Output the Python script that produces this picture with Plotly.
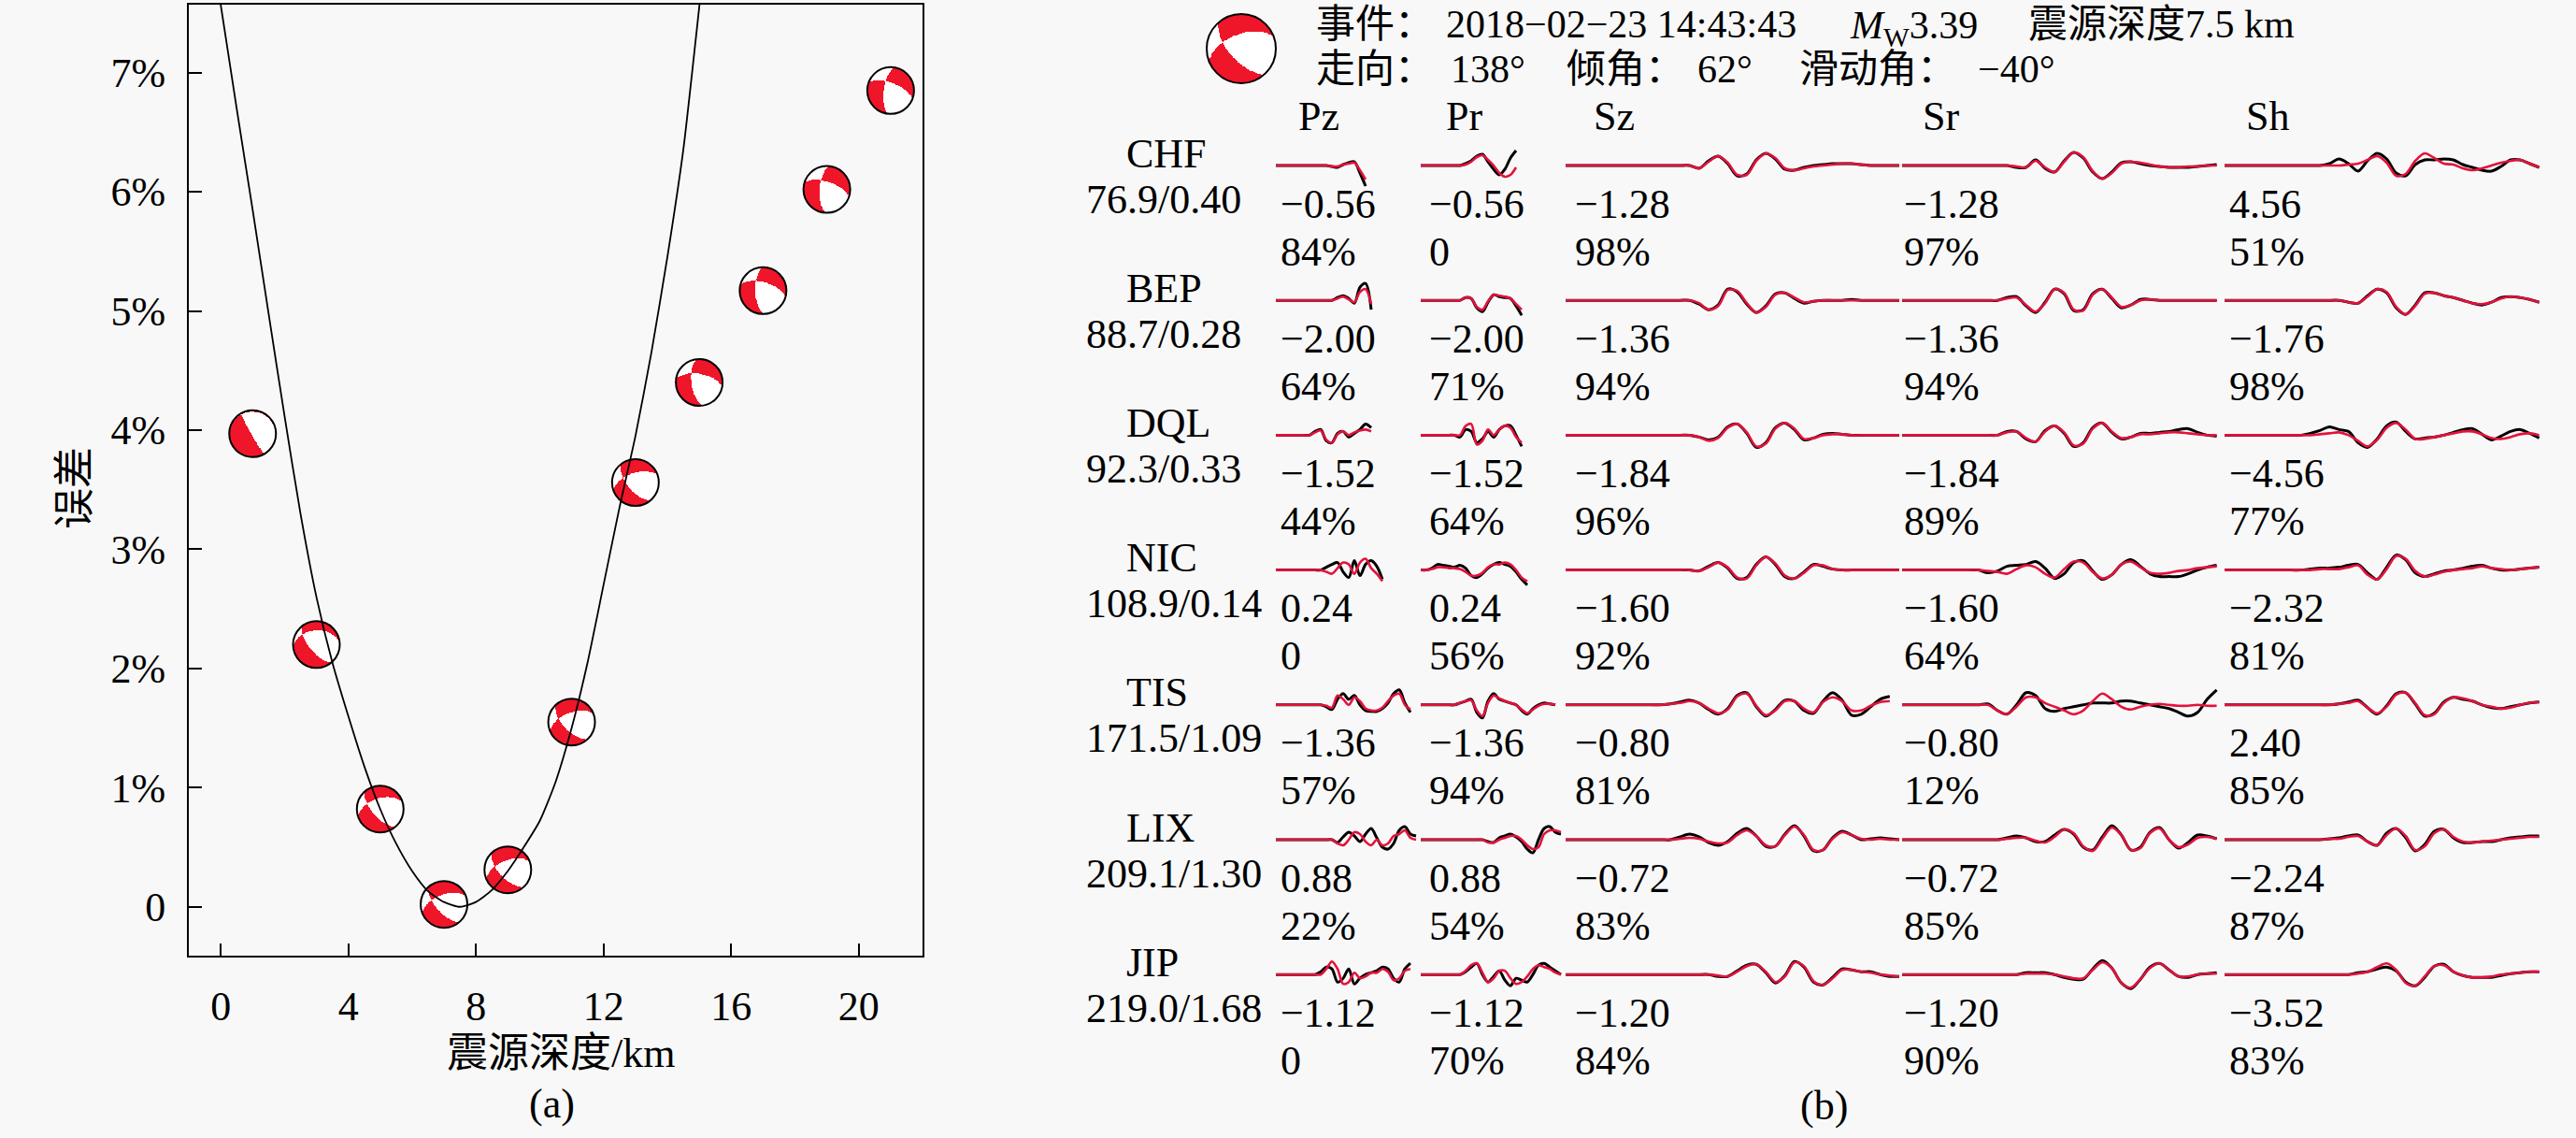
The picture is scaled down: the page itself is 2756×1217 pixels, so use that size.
import numpy as np
import plotly.graph_objects as go

W, H = 2756, 1217
FONT = "Liberation Serif, Noto Sans CJK SC, serif"
BG = "#f8f8f8"
BALL_RED = "rgb(240,22,42)"
WAVE_RED = "rgb(228,18,60)"

# ---------------- (a) misfit against source depth ----------------
depth = [1, 3, 5, 7, 9, 11, 13, 15, 17, 19, 21]
misfit = [3.97, 2.20, 0.82, 0.02, 0.31, 1.55, 3.56, 4.40, 5.17, 6.02, 6.85]
# mechanism drawn at each depth (strike / dip / rake), estimated from the balls
bb_strike = [150, 140, 138, 138, 136, 136, 140, 172, 178, 184, 188]
bb_dip = [85, 65, 62, 62, 60, 60, 62, 62, 62, 64, 65]
bb_rake = [-85, -60, -45, -40, -40, -40, -40, -35, -35, -30, -30]

# fitted misfit curve
curve_x = [-0.15, 0.0, 0.5, 1.0, 1.5, 2.0, 2.5, 3.0, 3.5, 4.0, 4.5, 5.0, 5.5, 6.0, 6.5,
           7.0, 7.5, 8.0, 8.5, 9.0, 9.5, 10.0, 10.5, 11.0, 11.5, 12.0, 12.5, 13.0,
           13.5, 14.0, 14.5, 15.0, 15.1]
curve_y = [7.82, 7.57, 6.7, 5.85, 4.98, 4.12, 3.3, 2.6, 2.05, 1.6, 1.18, 0.82, 0.53, 0.3, 0.13,
           0.04, 0.0, 0.04, 0.14, 0.3, 0.5, 0.72, 1.05, 1.5, 2.05, 2.7, 3.35, 3.95,
           4.65, 5.45, 6.35, 7.55, 7.8]

x_ticks = [0, 4, 8, 12, 16, 20]
y_ticks = [0, 1, 2, 3, 4, 5, 6, 7]
y_ticktext = ["0", "1%", "2%", "3%", "4%", "5%", "6%", "7%"]

# ---------------- (b) waveform fit ----------------
ev_time = "2018−02−23 14:43:43"
ev_mw = 3.39
ev_depth = 7.5
ev_strike, ev_dip, ev_rake = 138, 62, -40

stations = ["CHF", "BEP", "DQL", "NIC", "TIS", "LIX", "JIP"]
dist_info = ["76.9/0.40", "88.7/0.28", "92.3/0.33", "108.9/0.14",
             "171.5/1.09", "209.1/1.30", "219.0/1.68"]
components = ["Pz", "Pr", "Sz", "Sr", "Sh"]

shift_pz = [-0.56, -2.00, -1.52, 0.24, -1.36, 0.88, -1.12]
shift_pr = [-0.56, -2.00, -1.52, 0.24, -1.36, 0.88, -1.12]
shift_sz = [-1.28, -1.36, -1.84, -1.60, -0.80, -0.72, -1.20]
shift_sr = [-1.28, -1.36, -1.84, -1.60, -0.80, -0.72, -1.20]
shift_sh = [4.56, -1.76, -4.56, -2.32, 2.40, -2.24, -3.52]
corr_pz = [84, 64, 44, 0, 57, 22, 0]
corr_pr = [0, 71, 64, 56, 94, 54, 70]
corr_sz = [98, 94, 96, 92, 81, 83, 84]
corr_sr = [97, 94, 89, 64, 12, 85, 90]
corr_sh = [51, 98, 77, 81, 85, 87, 83]

# waveform amplitudes (screen px, up positive), observed = black, synthetic = red
pz_obs = [
    [0, 0, 0, 0, 0, 0, 0, 0, 0, 0, -1, -2, 1, 3, 4, -8, -22],
    [0, 0, 0, 0, 0, 0, 0, 0, 0, 0, 0, 3, 5, 2, -3, 14, 18, -10],
    [0, 0, 0, 0, 0, 0, 0, 4, 6, -6, -8, 2, 4, -2, 2, 6, 12, 8],
    [0, 0, 0, 0, 0, 0, 0, 0, 0, 3, 6, 8, -2, -8, 10, -6, 6, 10, 4, -10],
    [0, 0, 0, 0, 0, 0, 0, 0, 0, -2, -5, 6, 12, 6, 10, 0, -6, -7, -7, -4, 2, 12, 16, 2, -8],
    [0, 0, 0, 0, 0, 0, 0, 0, 0, 0, 0, -3, 3, 8, 4, -2, 6, 12, 2, -8, -10, -4, 10, 14, 6, 4],
    [0, 0, 0, 0, 0, 0, 0, 0, 3, 8, 6, -8, -4, 6, -10, -4, 0, 2, 4, 8, 6, -4, -8, 6, 12],
]
pz_syn = [
    [0, 0, 0, 0, 0, 0, 0, 0, 0, 0, -1, -1, 1, 2, 3, -5, -15],
    [0, 0, 0, 0, 0, 0, 0, 0, 0, 0, 0, 2, 4, 1, -2, 9, 12, -4],
    [0, 0, 0, 0, 0, 0, 0, 3, 5, -5, -8, 1, 4, 0, 3, 5, 6, 4],
    [0, 0, 0, 0, 0, 0, 0, 0, 0, -2, -4, 2, 8, 6, -4, 8, 12, 2, -4, -12],
    [0, 0, 0, 0, 0, 0, 0, 0, 0, -1, -3, 10, 6, 0, 8, 4, -4, -6, -6, -3, 4, 10, 12, 0, -5],
    [0, 0, 0, 0, 0, 0, 0, 0, 0, 0, 0, -4, -6, 0, 8, 6, -2, -6, 0, -6, -4, 4, 6, 10, 2, 0],
    [0, 0, 0, 0, 0, 0, 0, 0, 0, 6, 14, 6, -10, -8, 2, -4, -2, 2, 2, 6, 3, -6, -4, 4, 6],
]
pr_obs = [
    [0, 0, 0, 0, 0, 0, 0, 0, 2, 5, 10, 12, 4, -4, -10, -4, 8, 16],
    [0, 0, 0, 0, 0, 0, 0, 0, 3, 2, -8, -12, -2, 6, 4, 3, 2, -6, -16],
    [0, 0, 0, 0, 0, 0, 0, -2, 6, 4, -8, -4, 4, -2, 6, 10, 10, 0, -12],
    [0, 0, 2, 6, 5, 4, 3, 5, 2, -6, -8, -4, 2, 6, 8, 6, 4, -2, -10, -16],
    [0, 0, 0, 0, 0, 0, 0, 2, 4, 6, -8, -14, 4, 12, 6, 4, 2, 0, -6, -10, -4, 0, 2, 1, 0],
    [0, 0, 0, 0, 0, 0, 0, 0, 0, 0, 0, 0, -2, -3, 2, 4, 6, 3, -2, -10, -14, 0, 12, 14, 8, 6],
    [0, 0, 0, 0, 0, 0, 0, 0, 3, 8, 12, 0, -8, -2, 4, -6, -12, -4, -6, -8, 0, 10, 12, 8, 4, 0],
]
pr_syn = [
    [0, 0, 0, 0, 0, 0, 0, 0, 1, 4, 9, 11, 6, 0, -8, -12, -10, -2],
    [0, 0, 0, 0, 0, 0, 0, 0, 3, 2, -7, -10, -1, 6, 5, 4, 2, -4, -10],
    [0, 0, 0, 0, 0, 0, 0, 0, 10, 12, -10, -6, 6, 0, 6, 10, 8, -2, -8],
    [0, 0, 1, 3, 3, 2, 2, 1, -2, -6, -6, -3, 3, 6, 6, 8, 6, 0, -8, -12],
    [0, 0, 0, 0, 0, 0, 0, 2, 4, 5, -6, -12, 2, 10, 7, 4, 2, 0, -5, -9, -5, -1, 1, 1, 0],
    [0, 0, 0, 0, 0, 0, 0, 0, 0, 0, 0, 0, -3, -3, 0, 2, 4, 4, 0, -6, -10, -8, 6, 10, 10, 8],
    [0, 0, 0, 0, 0, 0, 0, 0, 4, 10, 12, 2, -8, -4, 4, 4, -4, -10, -8, -2, 6, 10, 8, 6, 2, 0],
]
sz_obs = [
    [0, 0, 0, 0, 0, 0, 0, 0, 0, 0, 0, 0, 0, 0, -3, 5, 10, 2, -11, -9, 6, 13, 7, -4, -5, -2, 0, 1, 2, 2, 2, 1, 0, 0, 0, 0],
    [0, 0, 0, 0, 0, 0, 0, 0, 0, 0, 0, 0, 0, 0, -4, -10, -5, 12, 9, -4, -13, -6, 7, 8, 2, -3, -1, 0, 0, 0, 1, 0, 0, 0, 0, 0],
    [0, 0, 0, 0, 0, 0, 0, 0, 0, 0, 0, 0, 0, 0, -2, -5, -2, 9, 12, 2, -13, -8, 8, 13, 6, -5, -3, 1, 2, 1, 0, 0, 0, 0, 0, 0],
    [0, 0, 0, 0, 0, 0, 0, 0, 0, 0, 0, 0, 0, 0, -1, 4, 8, 2, -9, -8, 6, 14, 6, -7, -9, -2, 6, 4, 1, 0, 0, 0, 0, 0, 0, 0],
    [0, 0, 0, 0, 0, 0, 0, 0, 0, 0, 0, 1, 3, 5, 2, -5, -10, -4, 10, 13, -2, -12, -5, 5, 4, -6, -9, 4, 13, 5, -11, -10, -2, 6, 9],
    [0, 0, 0, 0, 0, 0, 0, 0, 0, 0, 0, 0, 3, 6, 3, -3, -6, -2, 7, 12, 4, -7, -7, 6, 15, 4, -12, -11, 2, 9, 5, 0, 1, 2, 1, 0],
    [0, 0, 0, 0, 0, 0, 0, 0, 0, 0, 0, 0, 0, 0, 0, 0, -2, -2, 4, 10, 11, 2, -9, -1, 14, 8, -8, -11, -3, 6, 5, 3, 3, 0, -2, -2],
]
sz_syn = [
    [0, 0, 0, 0, 0, 0, 0, 0, 0, 0, 0, 0, 0, 0, -3, 4, 10, 3, -10, -10, 5, 13, 8, -3, -5, -3, -1, 0, 1, 2, 2, 1, 0, 0, 0, 0],
    [0, 0, 0, 0, 0, 0, 0, 0, 0, 0, 0, 0, 0, 0, -3, -10, -6, 11, 10, -3, -13, -7, 6, 8, 3, -2, -1, 0, 0, 0, 0, 0, 0, 0, 0, 0],
    [0, 0, 0, 0, 0, 0, 0, 0, 0, 0, 0, 0, 0, 0, -2, -6, -3, 8, 12, 3, -12, -9, 7, 13, 7, -4, -3, 0, 1, 1, 0, 0, 0, 0, 0, 0],
    [0, 0, 0, 0, 0, 0, 0, 0, 0, 0, 0, 0, 0, 0, -1, 3, 8, 3, -8, -9, 5, 14, 7, -6, -9, -3, 5, 5, 1, 0, 0, 0, 0, 0, 0, 0],
    [0, 0, 0, 0, 0, 0, 0, 0, 0, 0, 0, 1, 2, 4, 2, -4, -9, -5, 9, 12, -1, -11, -6, 4, 4, -4, -8, 3, 8, 4, -6, -6, -1, 3, 4],
    [0, 0, 0, 0, 0, 0, 0, 0, 0, 0, 0, 0, 1, 2, 1, -2, -4, -3, 5, 10, 4, -6, -7, 5, 14, 5, -11, -11, 1, 8, 5, 1, 0, 1, 0, 0],
    [0, 0, 0, 0, 0, 0, 0, 0, 0, 0, 0, 0, 0, 0, 0, 0, -1, -2, 3, 9, 11, 3, -8, -2, 13, 9, -7, -11, -4, 5, 5, 3, 2, 0, -1, -2],
]
sr_obs = [
    [0, 0, 0, 0, 0, 0, 0, 0, 0, 0, 0, 0, -2, -2, 6, -3, -7, 5, 14, 8, -7, -14, -7, 3, 4, 2, 0, -1, -2, -2, -2, -1, 0, 1],
    [0, 0, 0, 0, 0, 0, 0, 0, 0, 0, 0, 3, 4, -6, -13, -2, 12, 7, -11, -10, 7, 12, 2, -8, -5, 1, 1, 0, 0, 0, 0, 0, 0, 0],
    [0, 0, 0, 0, 0, 0, 0, 0, 0, 0, 0, 4, 4, -4, -7, 5, 10, 2, -12, -8, 8, 13, 3, -4, -2, 2, 2, 3, 4, 6, 7, 3, 0, -1],
    [0, 0, 0, 0, 0, 0, 0, 0, 0, -3, -1, 4, 5, 6, 9, 2, -9, -4, 8, 10, -1, -10, -5, 6, 11, 4, -4, -7, -7, -7, -4, 0, 3, 5],
    [0, 0, 0, 0, 0, 0, 0, 0, 0, 1, -6, -10, 0, 13, 10, -4, -7, -4, -2, 0, 2, 2, 2, 4, 4, 2, 0, -2, -4, -8, -12, -8, 6, 16],
    [0, 0, 0, 0, 0, 0, 0, 0, 0, 0, 0, 2, 4, 2, -2, -2, 5, 11, 6, -8, -11, 3, 15, 5, -11, -8, 8, 13, 0, -9, -3, 5, 4, 1],
    [0, 0, 0, 0, 0, 0, 0, 0, 0, 0, 0, 0, 0, 2, 2, 2, 0, -3, -5, -5, 6, 15, 7, -9, -15, -5, 8, 12, 5, -2, -3, 0, 1, 2],
]
sr_syn = [
    [0, 0, 0, 0, 0, 0, 0, 0, 0, 0, 0, 0, -1, -2, 5, -2, -7, 4, 14, 9, -6, -14, -8, 2, 4, 3, 1, -1, -2, -2, -1, -1, 0, 0],
    [0, 0, 0, 0, 0, 0, 0, 0, 0, 0, 0, 2, 3, -5, -12, -3, 12, 8, -10, -11, 6, 12, 3, -7, -5, 0, 1, 0, 0, 0, 0, 0, 0, 0],
    [0, 0, 0, 0, 0, 0, 0, 0, 0, 0, 0, 3, 4, -3, -7, 4, 10, 3, -11, -9, 7, 13, 4, -3, -2, 1, 1, 2, 3, 3, 2, 1, 0, 0],
    [0, 0, 0, 0, 0, 0, 0, 0, 0, -1, -2, -4, 1, 5, 3, -4, -8, 1, 9, 8, -2, -9, -5, 6, 9, 3, -3, -4, -3, -1, 0, 2, 3, 4],
    [0, 0, 0, 0, 0, 0, 0, 0, 0, 0, -6, -10, -2, 8, 8, 2, -2, -6, -10, -6, 4, 12, 6, -2, -5, -2, 0, 1, 0, -1, -1, 0, -1, -1],
    [0, 0, 0, 0, 0, 0, 0, 0, 0, 0, 0, 1, 2, 2, -1, -3, 3, 11, 7, -7, -12, 1, 13, 5, -11, -9, 7, 12, 0, -8, -5, 2, 3, 1],
    [0, 0, 0, 0, 0, 0, 0, 0, 0, 0, 0, 0, 0, 1, 1, 1, 0, -2, -4, -4, 5, 13, 7, -9, -14, -5, 7, 12, 5, -2, -2, 0, 1, 1],
]
sh_obs = [
    [0, 0, 0, 0, 0, 0, 0, 0, 0, 0, 0, 2, 7, 2, -6, 5, 13, 7, -8, -11, 1, 6, 6, 7, 6, 1, -2, -5, -6, -1, 6, 6, 2, -2],
    [0, 0, 0, 0, 0, 0, 0, 0, 0, 0, 0, 0, 0, -2, -3, 5, 12, 8, -8, -15, -5, 8, 8, 5, 3, 0, -3, -5, -2, 3, 4, 3, 1, -2],
    [0, 0, 0, 0, 0, 0, 0, 0, 0, 2, 5, 9, 6, 4, -8, -13, -4, 10, 14, 4, -4, -3, -2, 0, 3, 6, 7, 1, -5, -1, 4, 6, 2, -3],
    [0, 0, 0, 0, 0, 0, 0, 0, 0, 1, 2, 2, 3, 5, 6, -3, -10, 3, 16, 11, -3, -7, -4, -1, 0, 2, 4, 5, 2, 0, 0, 1, 2, 3],
    [0, 0, 0, 0, 0, 0, 0, 0, 0, 0, 0, 0, 1, 3, 5, -3, -10, -1, 12, 13, 1, -12, -9, 3, 8, 6, 4, 0, -3, -4, -2, 0, 2, 3],
    [0, 0, 0, 0, 0, 0, 0, 0, 0, 0, 0, 1, 2, 4, 5, -2, -6, 7, 12, 2, -12, -5, 9, 11, 2, -3, -3, -2, -2, 0, 2, 3, 4, 4],
    [0, 0, 0, 0, 0, 0, 0, 0, 0, 0, 0, 0, 0, 0, 2, 3, 6, 8, 4, -8, -12, -3, 9, 11, 3, -1, -3, -3, -3, -1, 1, 2, 3, 3],
]
sh_syn = [
    [0, 0, 0, 0, 0, 0, 0, 0, 0, 0, 0, 0, 0, 1, 2, 6, 10, 3, -11, -9, 5, 13, 8, 2, 1, -3, -5, -3, 0, 3, 5, 6, 2, -2],
    [0, 0, 0, 0, 0, 0, 0, 0, 0, 0, 0, 0, 0, -2, -3, 4, 12, 9, -7, -15, -6, 7, 8, 5, 3, 0, -3, -4, -2, 2, 4, 3, 1, -2],
    [0, 0, 0, 0, 0, 0, 0, 0, 0, 0, 1, 2, 3, 0, -6, -12, -5, 8, 13, 6, -4, -4, -2, 0, 2, 4, 4, 1, -3, -4, -2, 1, 2, 0],
    [0, 0, 0, 0, 0, 0, 0, 0, 0, 0, 1, 1, 1, 3, 5, -5, -10, 1, 15, 12, -1, -7, -5, -2, 0, 1, 2, 4, 2, 1, 0, 1, 2, 3],
    [0, 0, 0, 0, 0, 0, 0, 0, 0, 0, 0, 0, 1, 2, 4, -3, -9, -2, 11, 13, 2, -11, -10, 2, 8, 7, 4, 0, -2, -4, -3, 0, 2, 3],
    [0, 0, 0, 0, 0, 0, 0, 0, 0, 0, 0, 1, 1, 3, 4, -2, -6, 5, 12, 4, -11, -7, 7, 11, 3, -2, -3, -2, -1, 0, 1, 2, 3, 3],
    [0, 0, 0, 0, 0, 0, 0, 0, 0, 0, 0, 0, 0, 0, 1, 3, 8, 12, 5, -9, -12, -2, 9, 10, 3, -1, -3, -3, -2, 0, 1, 2, 3, 3],
]

# ---------------- pixel layout ----------------
AX_L, AX_R, AX_T, AX_B = 202, 987, 5, 1022      # frame of panel (a)
X_RANGE = [-1, 22]
Y_RANGE = [-0.41, 7.57]
BALL_R = 25
ROW0, ROW_STEP = 177, 144.2
COL_X0 = [1365, 1520, 1675, 2035, 2380]
COL_DT = [6, 6, 10.2, 10.2, 10.2]
NUM_X = [1368, 1527, 1683, 2035, 2383]
HEAD_X = [1387, 1545, 1703, 2055, 2401]


def polarity(strike, dip, rake, u, v):
    # lower hemisphere, equal area; u = east, v = north on a unit disc
    phi, delta, lam = np.radians([strike, dip, rake])
    r = np.hypot(u, v)
    inc = 2 * np.arcsin(np.clip(r / np.sqrt(2), 0, 1))
    az = np.arctan2(u, v)
    n = np.array([np.sin(inc) * np.cos(az), np.sin(inc) * np.sin(az), np.cos(inc)])
    sd, cd, s2d, c2d = np.sin(delta), np.cos(delta), np.sin(2 * delta), np.cos(2 * delta)
    sl, cl = np.sin(lam), np.cos(lam)
    sp, cp, s2p, c2p = np.sin(phi), np.cos(phi), np.sin(2 * phi), np.cos(2 * phi)
    m11 = -(sd * cl * s2p + s2d * sl * sp ** 2)
    m22 = sd * cl * s2p - s2d * sl * cp ** 2
    m33 = s2d * sl
    m12 = sd * cl * c2p + 0.5 * s2d * sl * s2p
    m13 = -(cd * cl * cp + c2d * sl * sp)
    m23 = -(cd * cl * sp - c2d * sl * cp)
    M = np.array([[m11, m12, m13], [m12, m22, m23], [m13, m23, m33]])
    amp = np.einsum('i...,ij,j...->...', n, M, n)
    z = np.where(amp > 0, 1.0, 0.0)
    z[r > 1] = np.nan
    return z


def ball_trace(strike, dip, rake, xs, ys, flip_y, xaxis, yaxis):
    t = np.linspace(-1, 1, 91)
    u = t[None, :] * np.ones((t.size, 1))
    v = (-t if flip_y else t)[:, None] * np.ones((1, t.size))
    z = polarity(strike, dip, rake, u, v)
    return go.Heatmap(x=xs, y=ys, z=z, zmin=0, zmax=1, showscale=False,
                      colorscale=[[0, "white"], [1, BALL_RED]], hoverinfo="skip",
                      xaxis=xaxis, yaxis=yaxis)


fig = go.Figure()

# misfit curve
fig.add_trace(go.Scatter(x=curve_x, y=curve_y, mode="lines",
                         line=dict(color="black", width=1.8, shape="spline", smoothing=0.6),
                         hoverinfo="skip", xaxis="x", yaxis="y"))

# beach balls on the curve
px_per_x = (AX_R - AX_L) / (X_RANGE[1] - X_RANGE[0])
px_per_y = (AX_B - AX_T) / (Y_RANGE[1] - Y_RANGE[0])
rx, ry = BALL_R / px_per_x, BALL_R / px_per_y
tt = np.linspace(-1, 1, 91)
shapes = []
for d, e, s, dp, rk in zip(depth, misfit, bb_strike, bb_dip, bb_rake):
    fig.add_trace(ball_trace(s, dp, rk, d + tt * rx, e + tt * ry, False, "x", "y"))
    shapes.append(dict(type="circle", xref="x", yref="y", xsizemode="pixel", ysizemode="pixel",
                       xanchor=d, yanchor=e, x0=-BALL_R, x1=BALL_R, y0=-BALL_R, y1=BALL_R,
                       line=dict(color="black", width=2)))

# header beach ball of panel (b)
HB_X, HB_Y, HB_R = 1328, 52, 37
fig.add_trace(ball_trace(ev_strike, ev_dip, ev_rake, HB_X + tt * HB_R, HB_Y + tt * HB_R, True, "x2", "y2"))
shapes.append(dict(type="circle", xref="x2", yref="y2", x0=HB_X - HB_R, x1=HB_X + HB_R,
                   y0=HB_Y - HB_R, y1=HB_Y + HB_R, line=dict(color="black", width=2)))

# waveforms
obs_cols = [pz_obs, pr_obs, sz_obs, sr_obs, sh_obs]
syn_cols = [pz_syn, pr_syn, sz_syn, sr_syn, sh_syn]
for c in range(5):
    for s in range(len(stations)):
        base = ROW0 + s * ROW_STEP
        for data, col, wd in ((obs_cols[c][s], "black", 3), (syn_cols[c][s], WAVE_RED, 2.6)):
            xs = [COL_X0[c] + i * COL_DT[c] for i in range(len(data))]
            ys = [base - a for a in data]
            fig.add_trace(go.Scatter(x=xs, y=ys, mode="lines", hoverinfo="skip",
                                     line=dict(color=col, width=wd, shape="spline", smoothing=0.9),
                                     xaxis="x2", yaxis="y2"))

ann = []


def txt(x, y, text, size=44, xanchor="left", angle=0):
    ann.append(dict(x=x, y=y, xref="x2", yref="y2", text=text, showarrow=False,
                    xanchor=xanchor, yanchor="middle", textangle=angle,
                    font=dict(family=FONT, size=size, color="black")))


def fmt(v):
    return f"{v:.2f}".replace("-", "−")


# header text
HS = 42
txt(1406, 26, "事件：", HS)
txt(1545, 26, ev_time, HS)
txt(1977, 30, f"<i>M</i><sub>W</sub>{ev_mw:.2f}", HS)
txt(2168, 26, f"震源深度{ev_depth} km", HS)
txt(1406, 74, "走向：", HS)
txt(1550, 74, f"{ev_strike}°", HS)
txt(1674, 74, "倾角：", HS)
txt(1814, 74, f"{ev_dip}°", HS)
txt(1923, 74, "滑动角：", HS)
txt(2114, 74, f"{ev_rake}°".replace("-", "−"), HS)

for c, name in enumerate(components):
    txt(HEAD_X[c], 124, name)

shifts = [shift_pz, shift_pr, shift_sz, shift_sr, shift_sh]
corrs = [corr_pz, corr_pr, corr_sz, corr_sr, corr_sh]
for s, st in enumerate(stations):
    base = ROW0 + s * ROW_STEP
    txt(1203, base - 13, st)
    txt(1160, base + 36, dist_info[s])
    for c in range(5):
        txt(NUM_X[c], base + 41, fmt(shifts[c][s]))
        cv = corrs[c][s]
        txt(NUM_X[c], base + 92, "0" if cv == 0 else f"{cv}%")

# panel titles
txt(600, 1126, "震源深度/km", 44, "center")
txt(80, 522, "误差", 44, "center", -90)
txt(590, 1180, "(a)", 44, "center")
txt(1951, 1182, "(b)", 44, "center")

tick_font = dict(family=FONT, size=44, color="black")
fig.update_layout(
    width=W, height=H, margin=dict(l=0, r=0, t=0, b=0),
    paper_bgcolor=BG, plot_bgcolor="rgba(0,0,0,0)", showlegend=False,
    xaxis=dict(domain=[AX_L / W, AX_R / W], range=X_RANGE, tickvals=x_ticks,
               ticks="inside", ticklen=13, tickwidth=2, tickcolor="black",
               showline=True, linewidth=2, linecolor="black", mirror=True,
               showgrid=False, zeroline=False, tickfont=tick_font,
               ticklabelstandoff=14, anchor="y"),
    yaxis=dict(domain=[1 - AX_B / H, 1 - AX_T / H], range=Y_RANGE, tickvals=y_ticks,
               ticktext=y_ticktext, ticks="inside", ticklen=14, tickwidth=2, tickcolor="black",
               showline=True, linewidth=2, linecolor="black", mirror=True,
               showgrid=False, zeroline=False, tickfont=tick_font,
               ticklabelstandoff=14, anchor="x"),
    xaxis2=dict(domain=[0, 1], range=[0, W], visible=False, anchor="y2", fixedrange=True),
    yaxis2=dict(domain=[0, 1], range=[H, 0], visible=False, anchor="x2", fixedrange=True),
    shapes=shapes, annotations=ann,
)

fig.write_html("out.html", config={"displayModeBar": False},
               post_script="document.body.style.margin='0';")
